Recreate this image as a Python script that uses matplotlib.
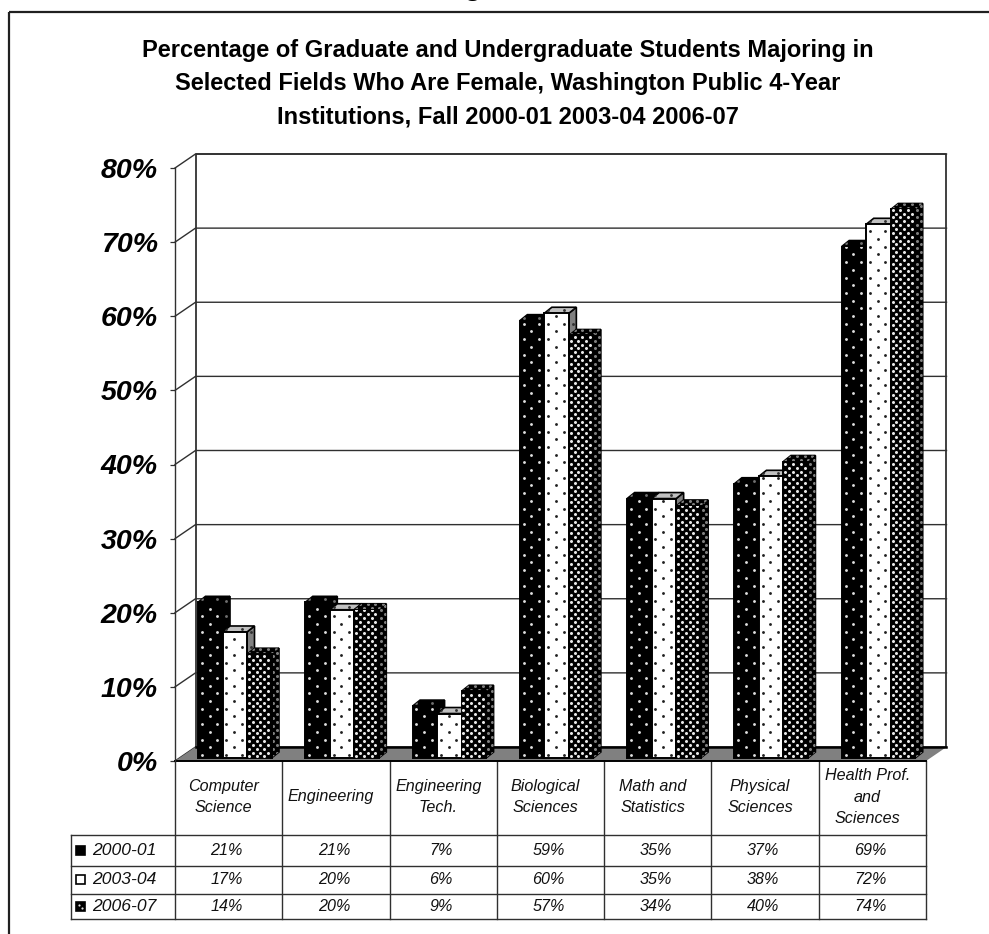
import numpy as np
import matplotlib
matplotlib.use('Agg')
import matplotlib.pyplot as plt
from matplotlib.patches import Polygon, Rectangle

plt.rcParams['font.family'] = ['Liberation Sans', 'DejaVu Sans']

W, H = 989, 934

title_lines = ['Percentage of Graduate and Undergraduate Students Majoring in',
               'Selected Fields Who Are Female, Washington Public 4-Year',
               'Institutions, Fall 2000-01 2003-04 2006-07']
categories = ['Computer\nScience', 'Engineering', 'Engineering\nTech.', 'Biological\nSciences',
              'Math and\nStatistics', 'Physical\nSciences', 'Health Prof.\nand\nSciences']
series_names = ['2000-01', '2003-04', '2006-07']
v_2000 = [21, 21, 7, 59, 35, 37, 69]
v_2003 = [17, 20, 6, 60, 35, 38, 72]
v_2006 = [14, 20, 9, 57, 34, 40, 74]
y_ticks = [0, 10, 20, 30, 40, 50, 60, 70, 80]

series_values = [v_2000, v_2003, v_2006]

# pixel edges of the plot's front plane
LEFT, RIGHT, Y0, Y80 = 175, 926, 761, 168
PX_X = 7 / (RIGHT - LEFT)
PX_Y = 80 / (Y0 - Y80)

# depth of the floor/wall and of each bar, in data units
WALL_DX, WALL_DY = 20.5 * PX_X, 14 * PX_Y
BAR_DX, BAR_DY = 7.5 * PX_X, 6 * PX_Y
BAR_W = 24.5 * PX_X
BAR_START = 23 * PX_X
BASE = 3 * PX_Y

LINE = '#303030'

styles = [
    dict(front='black', side='black', top='black', dot='#e0e0e0', dim='#707070', s=4.2, sx=15.4, sy=7.7),
    dict(front='white', side='#808080', top='#c0c0c0', dot='#202020', dim='#303030', s=4.2, sx=15.4, sy=7.7),
    dict(front='black', side='black', top='black', dot='#e8e8e8', dim='#808080', s=4.8, sx=7.7, sy=3.85),
]

fig = plt.figure(figsize=(W / 100, H / 100), dpi=100, facecolor='white')

# page layer: frame, titles and the data table, in pixel coordinates
page = fig.add_axes([0, 0, 1, 1])
page.set_xlim(0, W)
page.set_ylim(H, 0)
page.axis('off')

page.plot([9, 9], [H, 12], color='#202020', lw=1.6, solid_capstyle='butt')
page.plot([9, W], [12, 12], color='#202020', lw=1.6, solid_capstyle='butt')
page.text(473, -5, 'g', fontsize=21, fontweight='bold', ha='center', va='baseline')

for y, line in zip([50, 83.5, 117], title_lines):
    page.text(508, y, line, fontsize=17, fontweight='bold', ha='center', va='center', color='black')

col_edges = np.linspace(LEFT, RIGHT, len(categories) + 1)
row_edges = [835, 865.7, 893.7, 919]
row_mids = [850.5, 879.7, 906.5]
TABLE_LEFT = 70.7

for x in col_edges:
    page.plot([x, x], [Y0, row_edges[-1]], color=LINE, lw=1)
page.plot([TABLE_LEFT, TABLE_LEFT], [row_edges[0], row_edges[-1]], color=LINE, lw=1)
for y in row_edges:
    page.plot([TABLE_LEFT, RIGHT], [y, y], color=LINE, lw=1)

for c, label in enumerate(categories):
    cx = (col_edges[c] + col_edges[c + 1]) / 2
    parts = label.split('\n')
    for k, part in enumerate(parts):
        y = 797 + (k - (len(parts) - 1) / 2) * 21.8
        page.text(cx - 5, y, part, fontsize=11.6, fontstyle='italic', ha='center', va='center', color='#111111')

for r, name in enumerate(series_names):
    page.text(91.7, row_mids[r], name, fontsize=12.6, fontstyle='italic', ha='left', va='center', color='#111111')
    for c, value in enumerate(series_values[r]):
        cx = (col_edges[c] + col_edges[c + 1]) / 2
        page.text(cx - 2, row_mids[r], f'{value}%', fontsize=11.6, fontstyle='italic',
                  ha='center', va='center', color='#111111')

# legend keys sit inside the table rows
for r, st in enumerate(styles):
    y = row_mids[r]
    page.add_patch(Rectangle((76, y - 4.5), 9, 9, facecolor=st['front'], edgecolor='black', lw=1.2))
page.scatter([79, 82], [row_mids[2] - 1.5, row_mids[2] + 1.5], s=2.5, color='#e0e0e0', linewidths=0, zorder=5)

# chart layer, on the front plane
ax = fig.add_axes([LEFT / W, 1 - Y0 / H, (RIGHT - LEFT) / W, (Y0 - Y80) / H], facecolor='none')
ax.set_xlim(0, 7)
ax.set_ylim(0, 80)
ax.set_xticks([])
ax.set_yticks(y_ticks)
ax.set_yticklabels([f'{t}%' for t in y_ticks], fontsize=20.5, fontweight='bold', fontstyle='italic')
ax.tick_params(axis='y', length=3.8, width=0.9, color=LINE, pad=8.5)
for name in ['top', 'right', 'bottom']:
    ax.spines[name].set_visible(False)
ax.spines['left'].set_color(LINE)
ax.spines['left'].set_linewidth(1)

# back wall and gridlines
ax.plot([WALL_DX, WALL_DX, 7 + WALL_DX, 7 + WALL_DX],
        [WALL_DY, 80 + WALL_DY, 80 + WALL_DY, WALL_DY], color='#202020', lw=1.2, clip_on=False, zorder=1)
for t in y_ticks:
    ax.plot([0, WALL_DX, 7 + WALL_DX], [t, t + WALL_DY, t + WALL_DY], color=LINE, lw=1,
            clip_on=False, zorder=1, solid_joinstyle='miter')

# floor
ax.add_patch(Polygon([(0, 0), (WALL_DX, WALL_DY), (7 + WALL_DX, WALL_DY), (7, 0)], closed=True,
                     facecolor='#808080', edgecolor='none', clip_on=False, zorder=2))
ax.plot([WALL_DX, 7 + WALL_DX], [WALL_DY, WALL_DY], color='black', lw=1.8, clip_on=False, zorder=2)
ax.plot([0, 7], [0, 0], color='black', lw=1.4, clip_on=False, zorder=2)


def add_dots(face, x0, y0, x1, y1, st, color, z):
    # staggered dot pattern, clipped to one face of a bar
    sx, sy = st['sx'] * PX_X, st['sy'] * PX_Y
    xs, ys = [], []
    for j, y in enumerate(np.arange(y0 + sy * 0.4, y1, sy)):
        shift = sx * 0.25 if j % 2 == 0 else sx * 0.75
        for x in np.arange(x0 + shift, x1, sx):
            xs.append(x)
            ys.append(y)
    dots = ax.scatter(xs, ys, s=st['s'], color=color, linewidths=0, clip_on=True, zorder=z)
    dots.set_clip_path(face)


# bars are painted left to right so each front face hides its neighbour's side
z = 3
for c in range(len(categories)):
    for s, st in enumerate(styles):
        value = series_values[s][c]
        x0 = c + BAR_START + s * BAR_W
        x1 = x0 + BAR_W
        top = BASE + value

        side = Polygon([(x1, BASE), (x1 + BAR_DX, BASE + BAR_DY), (x1 + BAR_DX, top + BAR_DY), (x1, top)],
                       closed=True, facecolor=st['side'], edgecolor='black', lw=1.2, clip_on=False, zorder=z)
        roof = Polygon([(x0, top), (x0 + BAR_DX, top + BAR_DY), (x1 + BAR_DX, top + BAR_DY), (x1, top)],
                       closed=True, facecolor=st['top'], edgecolor='black', lw=1.2, clip_on=False, zorder=z)
        ax.add_patch(side)
        ax.add_patch(roof)
        add_dots(side, x1, BASE, x1 + BAR_DX, top + BAR_DY, st, st['dim'], z)
        add_dots(roof, x0, top, x1 + BAR_DX, top + BAR_DY, st, st['dim'], z)

        front = ax.bar(x0, value, BAR_W, bottom=BASE, align='edge', facecolor=st['front'],
                       edgecolor='black', lw=1.4, clip_on=False, zorder=z + 0.2)[0]
        add_dots(front, x0, BASE, x1, top, st, st['dot'], z + 0.3)
        z += 1

fig.savefig('out.png', dpi=100)
